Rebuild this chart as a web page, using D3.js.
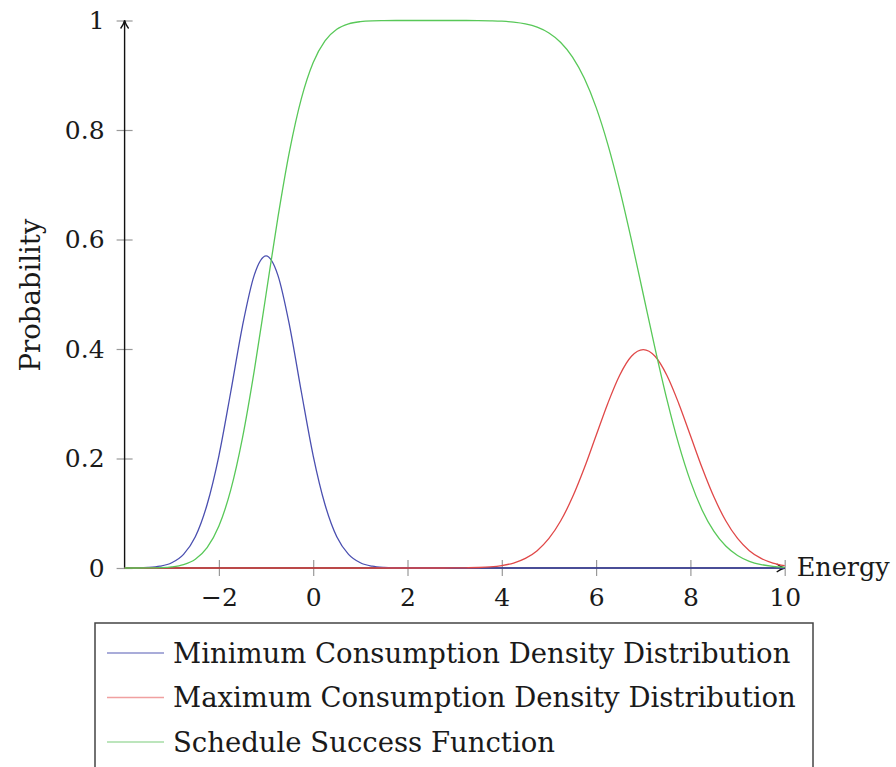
<!DOCTYPE html>
<html>
<head>
<meta charset="utf-8">
<script src="https://cdn.jsdelivr.net/npm/d3@7"></script>
<style>
    body { margin: 0; background: #fff; }
    text { font-family: "DejaVu Serif", "Liberation Serif", serif; fill: #1a1a1a; }
</style>
</head>
<body>
<div id="chart"></div>
<script>
// energy samples, step 0.25 from -4 to 10
const energy = d3.range(-4, 10.001, 0.25)

const minDensity = [
    0.0001, 0.0003, 0.001, 0.0033, 0.0096, 0.025, 0.057, 0.116, 0.205, 0.321, 0.442, 0.535,
    0.570, 0.535, 0.442, 0.321, 0.205, 0.116, 0.057, 0.025, 0.0096, 0.0033, 0.001, 0.0003,
    0.0001, 0, 0, 0, 0, 0, 0, 0, 0, 0, 0, 0, 0, 0, 0, 0, 0, 0, 0, 0, 0, 0, 0, 0, 0, 0, 0,
    0, 0, 0, 0, 0, 0
]

const maxDensity = [
    0, 0, 0, 0, 0, 0, 0, 0, 0, 0, 0, 0, 0, 0, 0, 0, 0, 0, 0, 0, 0, 0, 0, 0, 0, 0, 0, 0,
    0.0001, 0.0004, 0.0009, 0.002, 0.0044, 0.0091, 0.0175, 0.0317, 0.054, 0.0863, 0.1295,
    0.1826, 0.242, 0.3011, 0.3521, 0.3867, 0.3989, 0.3867, 0.3521, 0.3011, 0.242, 0.1826,
    0.1295, 0.0863, 0.054, 0.0317, 0.0175, 0.0091, 0.0044
]

const successFn = [
    0, 0, 0.0002, 0.0007, 0.0021, 0.0062, 0.0161, 0.0371, 0.0766, 0.1421, 0.2376, 0.3605,
    0.5, 0.6395, 0.7624, 0.8579, 0.9234, 0.9629, 0.9839, 0.9938, 0.9979, 0.9994, 0.9998,
    1, 1, 1, 1, 1, 1, 1, 0.9998, 0.9994, 0.9987, 0.997, 0.9938, 0.9878, 0.9772, 0.9599,
    0.9332, 0.8944, 0.8413, 0.7734, 0.6915, 0.5987, 0.5, 0.4013, 0.3085, 0.2266, 0.1587,
    0.1056, 0.0668, 0.0401, 0.0228, 0.0122, 0.0062, 0.003, 0.0013
]

const xTicks = [-2, 0, 2, 4, 6, 8, 10]
const yTicks = [0, 0.2, 0.4, 0.6, 0.8, 1]
const seriesNames = [
    "Minimum Consumption Density Distribution",
    "Maximum Consumption Density Distribution",
    "Schedule Success Function"
]
const lineColors = ["#4a4fb0", "#e04848", "#58c858"]
const legendColors = ["#8c90cc", "#f0a0a0", "#a6dca6"]

const dimensions = {
    width: 896,
    height: 767,
    margin: { top: 20.5, right: 111.3, bottom: 199, left: 124.6 }
}
dimensions.boundedWidth = dimensions.width - dimensions.margin.left - dimensions.margin.right
dimensions.boundedHeight = dimensions.height - dimensions.margin.top - dimensions.margin.bottom

const svg = d3.select("#chart").append("svg")
    .attr("width", dimensions.width)
    .attr("height", dimensions.height)

svg.append("defs").append("marker")
    .attr("id", "arrow")
    .attr("viewBox", "0 0 10 10")
    .attr("refX", 9)
    .attr("refY", 5)
    .attr("markerWidth", 10)
    .attr("markerHeight", 10)
    .attr("markerUnits", "userSpaceOnUse")
    .attr("orient", "auto")
    .append("path")
    .attr("d", "M1,1 Q5,4 9,5 Q5,6 1,9")
    .attr("fill", "none")
    .attr("stroke", "#111")
    .attr("stroke-width", 1.3)

const bounds = svg.append("g")
    .attr("transform", `translate(${dimensions.margin.left},${dimensions.margin.top})`)

const xScale = d3.scaleLinear()
    .domain([-4, 10])
    .range([0, dimensions.boundedWidth])

const yScale = d3.scaleLinear()
    .domain([0, 1])
    .range([dimensions.boundedHeight, 0])

// ticks (grey, crossing the axis)
const xAxis = bounds.append("g")
    .attr("transform", `translate(0,${dimensions.boundedHeight})`)
    .call(d3.axisBottom(xScale).tickValues(xTicks).tickSize(8).tickPadding(12)
        .tickFormat(d => d < 0 ? "\u2212" + Math.abs(d) : d))
xAxis.select(".domain").remove()
xAxis.selectAll(".tick line").attr("y1", -8).attr("stroke", "#999").attr("stroke-width", 1.2)
xAxis.selectAll(".tick text").attr("font-size", 25).attr("font-family", null)

const yAxis = bounds.append("g")
    .call(d3.axisLeft(yScale).tickValues(yTicks).tickSize(8).tickPadding(12)
        .tickFormat(d => d))
yAxis.select(".domain").remove()
yAxis.selectAll(".tick line").attr("x1", 8).attr("stroke", "#999").attr("stroke-width", 1.2)
yAxis.selectAll(".tick text").attr("font-size", 25).attr("font-family", null)

// axis lines with arrows
bounds.append("line")
    .attr("x1", 0).attr("x2", 0)
    .attr("y1", dimensions.boundedHeight).attr("y2", 0)
    .attr("stroke", "#111").attr("stroke-width", 1.4)
    .attr("marker-end", "url(#arrow)")
bounds.append("line")
    .attr("x1", 0).attr("x2", dimensions.boundedWidth)
    .attr("y1", dimensions.boundedHeight).attr("y2", dimensions.boundedHeight)
    .attr("stroke", "#111").attr("stroke-width", 1.4)
    .attr("marker-end", "url(#arrow)")

// curves
const lineGenerator = d3.line()
    .x((d, i) => xScale(energy[i]))
    .y(d => yScale(d))
    .curve(d3.curveMonotoneX)

;[minDensity, maxDensity, successFn].forEach((series, i) => {
    bounds.append("path")
        .attr("d", lineGenerator(series))
        .attr("fill", "none")
        .attr("stroke", lineColors[i])
        .attr("stroke-width", 1.3)
})

// axis labels
bounds.append("text")
    .attr("x", dimensions.boundedWidth + 12)
    .attr("y", dimensions.boundedHeight + 8)
    .attr("font-size", 25.5)
    .text("Energy")

svg.append("text")
    .attr("transform", `translate(40,295) rotate(-90)`)
    .attr("text-anchor", "middle")
    .attr("font-size", 27.5)
    .text("Probability")

// legend
const legend = svg.append("g").attr("transform", "translate(95,623)")
legend.append("rect")
    .attr("width", 718)
    .attr("height", 170)
    .attr("fill", "#fff")
    .attr("stroke", "#444")
    .attr("stroke-width", 1.5)

seriesNames.forEach((name, i) => {
    const row = legend.append("g").attr("transform", `translate(0,${30 + i * 44.5})`)
    row.append("line")
        .attr("x1", 12).attr("x2", 69)
        .attr("stroke", legendColors[i])
        .attr("stroke-width", 1.4)
    row.append("text")
        .attr("x", 78)
        .attr("dy", "0.35em")
        .attr("font-size", 27.5)
        .text(name)
})
</script>
</body>
</html>
